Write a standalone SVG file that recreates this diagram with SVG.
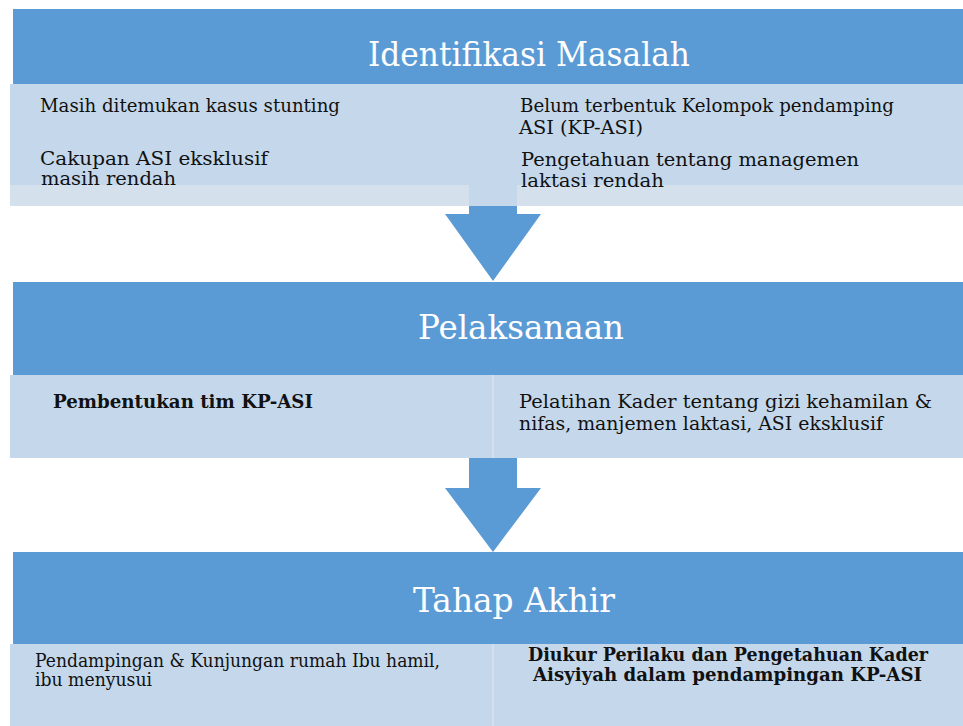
<svg xmlns="http://www.w3.org/2000/svg" width="963" height="726" viewBox="0 0 963 726">
<style>
.hdr{fill:#5b9bd5}
.lt{fill:#c5d8eb}
.strip{fill:#d4e1ed}
.arrow{fill:#5b9bd5}
.div{stroke:#d3e1ef;stroke-width:2}
.title{font-family:"DejaVu Serif","Liberation Serif",serif;font-size:34px;fill:#ffffff}
.body{font-family:"DejaVu Serif","Liberation Serif",serif;font-size:18px;fill:#111111}
.bold{font-weight:bold}
</style>
<rect width="963" height="726" fill="#ffffff"/>
<g id="connectors">
<polygon class="arrow" points="469,200 517,200 517,214 541,214 493,281 445,214 469,214"/>
<polygon class="arrow" points="469,456 517,456 517,488 541,488 493,552 445,488 469,488"/>
</g>
<g id="identifikasi">
<rect class="hdr" x="13" y="9" width="950" height="75"/>
<rect class="lt" x="10" y="84" width="953" height="101"/>
<rect class="lt" x="469" y="185" width="48" height="21"/>
<rect class="strip" x="10" y="185" width="459" height="21"/>
<rect class="strip" x="517" y="185" width="446" height="21"/>
<text class="title" x="368" y="66" textLength="322" lengthAdjust="spacingAndGlyphs">Identifikasi Masalah</text>
<text class="body" x="40" y="112" textLength="300" lengthAdjust="spacingAndGlyphs">Masih ditemukan kasus stunting</text>
<text class="body" x="40" y="165" textLength="228" lengthAdjust="spacingAndGlyphs">Cakupan ASI eksklusif</text>
<text class="body" x="41" y="185" textLength="135" lengthAdjust="spacingAndGlyphs">masih rendah</text>
<text class="body" x="520" y="112" textLength="374" lengthAdjust="spacingAndGlyphs">Belum terbentuk Kelompok pendamping</text>
<text class="body" x="519" y="134" textLength="124" lengthAdjust="spacingAndGlyphs">ASI (KP-ASI)</text>
<text class="body" x="521" y="166" textLength="338" lengthAdjust="spacingAndGlyphs">Pengetahuan tentang managemen</text>
<text class="body" x="521" y="187" textLength="143" lengthAdjust="spacingAndGlyphs">laktasi rendah</text>
</g>
<g id="pelaksanaan">
<rect class="hdr" x="13" y="282" width="950" height="93"/>
<rect class="lt" x="10" y="375" width="953" height="83"/>
<line class="div" x1="493" y1="375" x2="493" y2="458"/>
<text class="title" x="418" y="339" textLength="206" lengthAdjust="spacingAndGlyphs">Pelaksanaan</text>
<text class="body bold" x="53" y="408" textLength="260" lengthAdjust="spacingAndGlyphs">Pembentukan tim KP-ASI</text>
<text class="body" x="519" y="408" textLength="413" lengthAdjust="spacingAndGlyphs">Pelatihan Kader tentang gizi kehamilan &amp;</text>
<text class="body" x="519" y="430" textLength="364" lengthAdjust="spacingAndGlyphs">nifas, manjemen laktasi, ASI eksklusif</text>
</g>
<g id="tahap-akhir">
<rect class="hdr" x="13" y="552" width="950" height="92"/>
<rect class="lt" x="10" y="644" width="953" height="82"/>
<line class="div" x1="493" y1="644" x2="493" y2="726"/>
<text class="title" x="413" y="612" textLength="202" lengthAdjust="spacingAndGlyphs">Tahap Akhir</text>
<text class="body" x="35" y="667" textLength="405" lengthAdjust="spacingAndGlyphs">Pendampingan &amp; Kunjungan rumah Ibu hamil,</text>
<text class="body" x="35" y="686" textLength="117" lengthAdjust="spacingAndGlyphs">ibu menyusui</text>
<text class="body bold" x="528" y="661" textLength="400" lengthAdjust="spacingAndGlyphs">Diukur Perilaku dan Pengetahuan Kader</text>
<text class="body bold" x="533" y="681" textLength="389" lengthAdjust="spacingAndGlyphs">Aisyiyah dalam pendampingan KP-ASI</text>
</g>
</svg>
